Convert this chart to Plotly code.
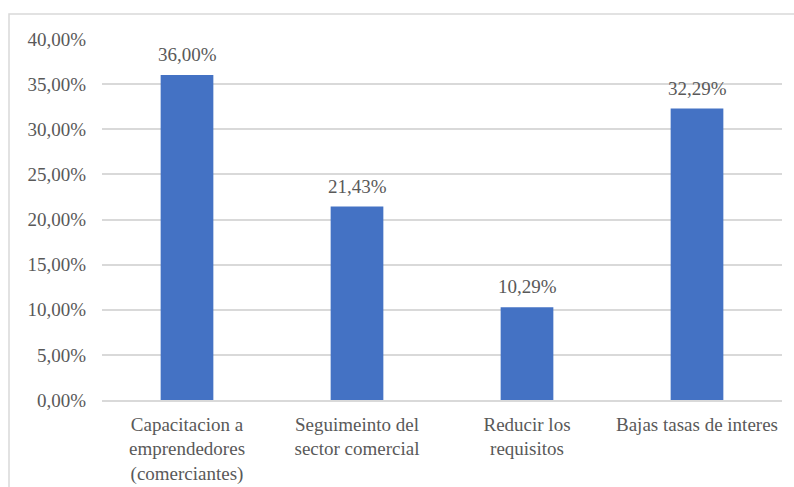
import plotly.graph_objects as go

categories = [
    "Capacitacion a<br>emprendedores<br>(comerciantes)",
    "Seguimeinto del<br>sector comercial",
    "Reducir los<br>requisitos",
    "Bajas tasas de interes",
]
values = [0.36, 0.2143, 0.1029, 0.3229]
y_ticks = [0, 0.05, 0.10, 0.15, 0.20, 0.25, 0.30, 0.35, 0.40]

W, H = 794, 487
L, R, T, B = 102, 12, 39, 87
pw, ph = W - L - R, H - T - B
FONT = "Liberation Serif"

fig = go.Figure(
    go.Bar(
        x=categories,
        y=values,
        marker=dict(color="#4472C4", line=dict(width=0)),
        width=0.31,
        hoverinfo="x+y",
    )
)

# value labels above each bar, formatted from the same values
label_annotations = [
    dict(
        x=c,
        y=v,
        xref="x",
        yref="y",
        text=f"{v * 100:.2f}%".replace(".", ","),
        showarrow=False,
        yanchor="bottom",
        yshift=8,
        font=dict(family=FONT, size=19, color="#595959"),
    )
    for c, v in zip(categories, values)
]

fig.update_layout(
    width=W,
    height=H,
    margin=dict(l=L, r=R, t=T, b=B, autoexpand=False),
    paper_bgcolor="white",
    plot_bgcolor="white",
    separators=",.",
    showlegend=False,
    font=dict(family=FONT, size=19, color="#595959"),
    annotations=label_annotations,
    shapes=[
        dict(
            type="rect",
            xref="paper",
            yref="paper",
            x0=(9 - L) / pw,
            x1=(W + 20 - L) / pw,
            y0=-(B + 20) / ph,
            y1=(H - B - 14) / ph,
            line=dict(color="#d9d9d9", width=1.5),
            fillcolor="rgba(0,0,0,0)",
            layer="below",
        )
    ],
)

fig.update_yaxes(
    range=[0, 0.40],
    tickvals=y_ticks,
    tickformat=".2%",
    showgrid=True,
    gridcolor="#d9d9d9",
    gridwidth=1.5,
    zeroline=False,
    showline=False,
    ticks="",
    automargin=False,
    ticklabelstandoff=15,
    tickfont=dict(family=FONT, size=19, color="#595959"),
)

fig.update_xaxes(
    showline=True,
    linecolor="#d9d9d9",
    linewidth=1.5,
    ticks="",
    automargin=False,
    ticklabelstandoff=6,
    tickfont=dict(family=FONT, size=19, color="#595959"),
)

fig.write_html("out.html")
